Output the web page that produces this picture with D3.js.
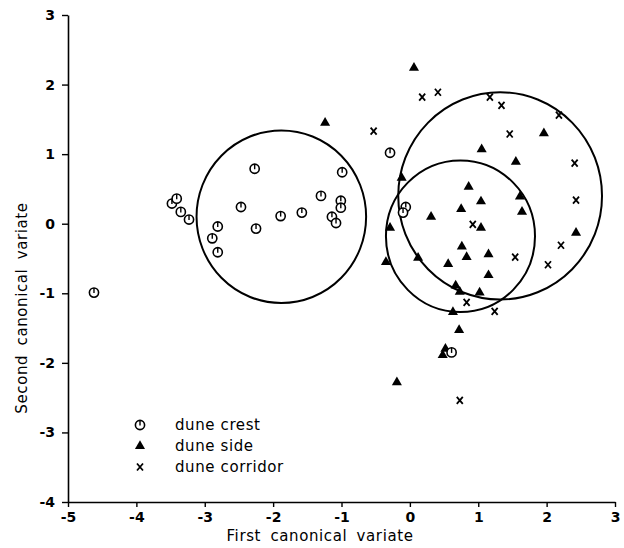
<!DOCTYPE html>
<html>
<head>
<meta charset="utf-8">
<script src="https://cdn.jsdelivr.net/npm/d3@7"></script>
<style>
  body { margin: 0; background: #fff; }
  text { font-family: "DejaVu Sans", sans-serif; fill: #000; }
</style>
</head>
<body>
<div id="chart"></div>
<script>
var width = 624, height = 548;
var margin = {top: 15, right: 9, bottom: 46, left: 68};

// dune crest samples [first, second]
var crest = [
  [-4.62, -0.99], [-3.48, 0.29], [-3.41, 0.36], [-3.35, 0.17], [-3.23, 0.06],
  [-2.81, -0.04], [-2.89, -0.21], [-2.81, -0.41], [-2.47, 0.24], [-2.27, 0.79],
  [-2.25, -0.07], [-1.89, 0.11], [-1.58, 0.16], [-1.30, 0.40], [-0.99, 0.74],
  [-1.01, 0.33], [-1.01, 0.23], [-1.14, 0.10], [-1.08, 0.01], [-0.29, 1.02],
  [-0.06, 0.24], [-0.10, 0.16], [0.61, -1.85]
];
// dune side samples
var side = [
  [-1.24, 1.45], [0.06, 2.24], [1.05, 1.07], [1.96, 1.30], [1.55, 0.89],
  [-0.12, 0.66], [1.61, 0.39], [1.64, 0.17], [0.86, 0.53], [1.04, 0.32],
  [0.75, 0.21], [0.31, 0.10], [1.04, -0.06], [-0.29, -0.06], [2.43, -0.13],
  [0.76, -0.33], [0.83, -0.48], [1.15, -0.44], [0.56, -0.58], [-0.35, -0.55],
  [0.12, -0.49], [1.15, -0.74], [0.67, -0.89], [0.73, -0.98], [1.02, -0.99],
  [0.63, -1.27], [0.72, -1.53], [0.48, -1.89], [0.52, -1.80], [-0.19, -2.28]
];
// dune corridor samples
var corridor = [
  [-0.53, 1.33], [0.18, 1.82], [0.41, 1.89], [1.17, 1.82], [1.34, 1.70],
  [2.18, 1.56], [1.46, 1.29], [2.41, 0.87], [2.43, 0.34], [0.92, -0.01],
  [2.21, -0.31], [1.54, -0.48], [2.02, -0.59], [0.83, -1.13], [1.24, -1.26],
  [0.73, -2.54]
];
// group circles [centre x, centre y, radius]
var groupCircles = [
  [-1.88, 0.10, 1.24],
  [1.32, 0.40, 1.49],
  [0.74, -0.18, 1.09]
];
var xTicks = [-5, -4, -3, -2, -1, 0, 1, 2, 3];
var yTicks = [-4, -3, -2, -1, 0, 1, 2, 3];
var legendLabels = ["dune crest", "dune side", "dune corridor"];

var svg = d3.select("#chart")
  .append("svg")
    .attr("width", width)
    .attr("height", height);

var x = d3.scaleLinear().domain([-5, 3]).range([margin.left, width - margin.right]);
var y = d3.scaleLinear().domain([-4, 3]).range([height - margin.bottom, margin.top]);

var fmt = function(d) { return String(d).replace("\u2212", "-"); };

var xAxis = svg.append("g")
  .attr("transform", "translate(0," + y(-4) + ")")
  .call(d3.axisBottom(x).tickValues(xTicks).tickSize(5).tickPadding(5).tickSizeOuter(0).tickFormat(fmt));
var yAxis = svg.append("g")
  .attr("transform", "translate(" + x(-5) + ",0)")
  .call(d3.axisLeft(y).tickValues(yTicks).tickSize(6).tickPadding(7).tickSizeOuter(0).tickFormat(fmt));

[xAxis, yAxis].forEach(function(a) {
  a.select(".domain").attr("stroke", "#000").attr("stroke-width", 1.6);
  a.selectAll(".tick line").attr("stroke", "#000").attr("stroke-width", 1.4);
  a.selectAll(".tick text").attr("font-size", 14).attr("font-weight", "bold")
    .style("font-family", "'DejaVu Sans', sans-serif").attr("fill", "#000");
});

// axis titles
svg.append("text")
  .attr("x", 320).attr("y", 541)
  .attr("text-anchor", "middle")
  .attr("font-size", 15)
  .attr("letter-spacing", 0.6)
  .attr("word-spacing", 4)
  .text("First canonical variate");
svg.append("text")
  .attr("transform", "translate(27,308) rotate(-90)")
  .attr("text-anchor", "middle")
  .attr("font-size", 15)
  .attr("letter-spacing", 0.6)
  .attr("word-spacing", 4)
  .text("Second canonical variate");

// group circles
svg.selectAll("ellipse.group")
  .data(groupCircles)
  .join("ellipse")
    .attr("class", "group")
    .attr("cx", function(d) { return x(d[0]); })
    .attr("cy", function(d) { return y(d[1]); })
    .attr("rx", function(d) { return x(d[2]) - x(0); })
    .attr("ry", function(d) { return y(0) - y(d[2]); })
    .attr("fill", "none")
    .attr("stroke", "#000")
    .attr("stroke-width", 2);

function drawCrest(g) {
  g.append("circle").attr("r", 4.6).attr("fill", "#fff")
    .attr("stroke", "#000").attr("stroke-width", 1.6);
  g.append("line").attr("x1", 0).attr("x2", 0).attr("y1", -4.5).attr("y2", 0.5)
    .attr("stroke", "#000").attr("stroke-width", 1.4);
}
function drawSide(g) {
  g.append("path").attr("d", d3.symbol(d3.symbolTriangle, 44)()).attr("fill", "#000");
}
function drawCorridor(g) {
  g.append("path").attr("d", "M-3,-3.5L3,3.5M3,-3.5L-3,3.5")
    .attr("stroke", "#000").attr("stroke-width", 1.8);
}

svg.selectAll("g.corridor")
  .data(corridor)
  .join("g")
    .attr("class", "corridor")
    .attr("transform", function(d) { return "translate(" + x(d[0]) + "," + y(d[1]) + ")"; })
    .each(function() { drawCorridor(d3.select(this)); });

svg.selectAll("g.side")
  .data(side)
  .join("g")
    .attr("class", "side")
    .attr("transform", function(d) { return "translate(" + x(d[0]) + "," + y(d[1]) + ")"; })
    .each(function() { drawSide(d3.select(this)); });

svg.selectAll("g.crest")
  .data(crest)
  .join("g")
    .attr("class", "crest")
    .attr("transform", function(d) { return "translate(" + x(d[0]) + "," + y(d[1]) + ")"; })
    .each(function() { drawCrest(d3.select(this)); });

// legend
var drawers = [drawCrest, drawSide, drawCorridor];
var legend = svg.append("g").attr("transform", "translate(140,425)");
legendLabels.forEach(function(label, i) {
  var row = legend.append("g").attr("transform", "translate(0," + (i * 21) + ")");
  drawers[i](row.append("g"));
  row.append("text")
    .attr("x", 35).attr("y", 5)
    .attr("font-size", 15)
    .attr("letter-spacing", 0.6)
    .text(label);
});
</script>
</body>
</html>
